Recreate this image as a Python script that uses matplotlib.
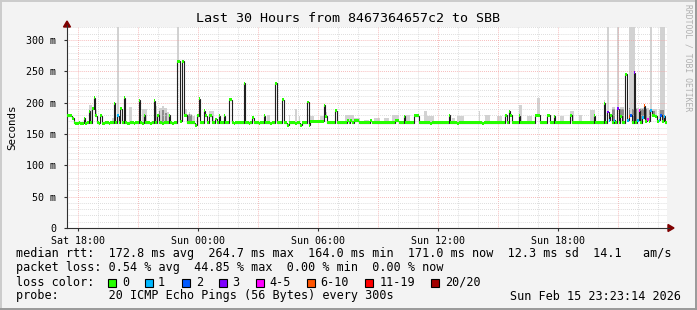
import numpy as np
import matplotlib
matplotlib.use('Agg')
import matplotlib.pyplot as plt
from matplotlib.patches import Polygon, Rectangle
from matplotlib.lines import Line2D

plt.rcParams['font.family'] = ['DejaVu Sans Mono']

# median rtt in ms, one value per 5 min step, 30 hours (24 values = 2 hours per row)
median_ms = [
    179, 179, 179, 175, 168, 167, 167, 168, 167, 167, 175, 167, 168, 186, 168, 190, 208, 179, 168, 167, 179, 167, 167, 168,
    168, 167, 168, 168, 199, 168, 179, 168, 190, 168, 208, 168, 167, 167, 168, 168, 167, 168, 168, 204, 168, 167, 180, 168,
    168, 168, 167, 168, 203, 168, 180, 168, 168, 167, 168, 168, 168, 180, 168, 167, 168, 168, 266, 266, 170, 266, 180, 180,
    168, 168, 168, 168, 168, 164, 179, 206, 168, 168, 187, 179, 168, 179, 179, 168, 168, 174, 168, 179, 168, 168, 179, 168,
    168, 205, 205, 168, 167, 168, 168, 168, 168, 168, 231, 168, 168, 167, 168, 176, 168, 168, 168, 167, 168, 168, 179, 168,
    168, 168, 167, 168, 168, 231, 168, 168, 168, 205, 168, 168, 164, 168, 168, 168, 168, 167, 168, 168, 164, 168, 168, 168,
    201, 164, 170, 170, 170, 170, 170, 170, 170, 170, 196, 178, 168, 168, 168, 168, 168, 187, 168, 168, 168, 168, 168, 168,
    171, 168, 171, 168, 171, 171, 171, 168, 168, 168, 168, 168, 168, 168, 171, 168, 168, 168, 168, 168, 168, 168, 168, 168,
    168, 168, 168, 168, 168, 171, 171, 168, 168, 168, 178, 168, 168, 168, 168, 168, 179, 179, 179, 168, 168, 168, 168, 168,
    168, 168, 167, 168, 168, 168, 168, 168, 168, 168, 168, 168, 168, 180, 168, 168, 168, 168, 167, 168, 168, 168, 168, 168,
    168, 168, 168, 168, 168, 168, 168, 168, 168, 167, 168, 168, 168, 168, 168, 168, 168, 168, 168, 168, 168, 168, 168, 180,
    168, 186, 180, 168, 168, 168, 168, 179, 168, 168, 168, 168, 168, 168, 168, 168, 168, 180, 180, 180, 168, 168, 168, 168,
    180, 180, 168, 168, 178, 168, 168, 168, 168, 168, 168, 168, 168, 168, 180, 168, 168, 168, 168, 168, 168, 168, 168, 168,
    168, 168, 168, 168, 179, 168, 168, 168, 168, 168, 199, 168, 185, 172, 180, 168, 172, 168, 190, 168, 178, 168, 168, 245,
    172, 178, 180, 168, 248, 168, 172, 187, 168, 176, 195, 170, 173, 170, 187, 180, 180, 178, 170, 172, 180, 170, 178, 168,
]

# samples with lost pings (all others 0/20)
loss_idx = [30, 324, 325, 328, 330, 336, 337, 338, 340, 342, 343, 345, 346, 348, 350, 355, 356, 358]
loss_cnt = [1, 3, 1, 1, 3, 1, 7, 2, 3, 1, 4, 1, 7, 4, 1, 1, 2, 1]

# smoke (spread of the 20 pings): light outer part and darker core
smoke_idx = [13, 14, 16, 17, 27, 30, 34, 37, 38, 45, 46, 47, 52, 53, 55, 56, 57, 58, 59, 60, 66, 70, 71,
             72, 73, 74, 75, 76, 85, 86, 87, 120, 121, 133, 137, 139,
             146, 147, 152, 153, 155, 167, 168, 169, 170, 171, 172, 173, 174, 175, 178, 179, 180,
             184, 185, 186, 187, 190, 191, 192, 195, 196, 197, 198, 203, 204, 205, 214, 215,
             216, 217, 218, 219, 231, 232, 234, 235, 236, 237, 247, 251, 252, 253, 258, 259, 260,
             271, 272, 276, 277, 278, 282, 283,
             296, 297, 302, 303, 307, 308, 314, 315, 316, 322, 324, 327, 328, 330, 332, 333,
             337, 338, 339, 340, 341, 342, 344, 345, 346, 347, 348, 350, 351, 352, 353, 355, 356, 357, 358]
smoke_top = [196, 196, 188, 188, 175, 330, 207, 193, 193, 190, 190, 190, 191, 195, 191, 191, 195, 191, 191, 185, 330, 190, 190,
             182, 185, 182, 178, 178, 186, 186, 186, 180, 180, 180, 190, 178,
             178, 178, 178, 178, 185, 180, 180, 180, 180, 180, 176, 176, 176, 176, 173, 173, 173,
             176, 176, 176, 176, 176, 176, 176, 180, 180, 180, 180, 180, 180, 180, 186, 186,
             178, 178, 178, 178, 176, 176, 178, 178, 178, 178, 186, 180, 180, 180, 178, 178, 178,
             196, 196, 178, 178, 178, 208, 208,
             178, 178, 187, 187, 180, 180, 188, 188, 188, 205, 330, 193, 193, 330, 193, 193,
             330, 330, 330, 330, 192, 192, 192, 192, 192, 192, 192, 330, 190, 190, 190, 190, 330, 330, 330]
dark_idx = [55, 57, 59, 72, 73, 74, 327, 328, 332, 333, 337, 339, 341, 344, 345, 346, 347, 349, 351, 352, 356, 357]
dark_top = [186, 188, 184, 180, 182, 180, 190, 190, 190, 190, 192, 190, 190, 190, 190, 188, 190, 188, 186, 186, 188, 188]

loss_colors = {0: '#26ff00', 1: '#00b8ff', 2: '#0059ff', 3: '#7e00ff',
               4: '#ff00ff', 6: '#ff5500', 11: '#ff0000', 20: '#a10000'}
legend_names = ['0', '1', '2', '3', '4-5', '6-10', '11-19', '20/20']
legend_keys = [0, 1, 2, 3, 4, 6, 11, 20]

title = 'Last 30 Hours from 8467364657c2 to SBB'
xtick_pos = [0.55, 6.55, 12.55, 18.55, 24.55]
xtick_lab = ['Sat 18:00', 'Sun 00:00', 'Sun 06:00', 'Sun 12:00', 'Sun 18:00']


def loss_color(n):
    key = 0
    for k in legend_keys:
        if n >= k:
            key = k
    return loss_colors[key]


W, H = 697, 310
fig = plt.figure(figsize=(W / 100, H / 100), dpi=100, facecolor='#f3f3f3')
ax = fig.add_axes([67 / W, 82 / H, 600 / W, 201 / H], facecolor='white')

step = 1 / 12.0
med = np.array(median_ms, dtype=float)
t = np.arange(len(med)) * step

# smoke
s_idx = np.array(smoke_idx)
ax.bar(t[s_idx], np.array(smoke_top) - med[s_idx], bottom=med[s_idx], width=step,
       align='edge', color='#d2d2d2', linewidth=0, zorder=1)
d_idx = np.array(dark_idx)
ax.bar(t[d_idx], np.array(dark_top) - med[d_idx], bottom=med[d_idx], width=step,
       align='edge', color='#8c8c8c', linewidth=0, zorder=1.1)

# grid (rrdtool draws it over the smoke)
dots = (0, (0.7, 1.4))
for h in np.arange(0.55, 30, 1.0):
    major = abs((h - 0.55) % 3) < 1e-6
    ax.axvline(h, color='#f4a0a0' if major else '#d0d0d0', lw=0.7, ls=dots, zorder=2)
for v in range(10, 321, 10):
    ax.axhline(v, color='#f4a0a0' if v % 50 == 0 else '#d0d0d0', lw=0.7, ls=dots, zorder=2)

# median line and loss boxes
edges = np.arange(len(med) + 1) * step
ax.stairs(med, edges, baseline=None, color='#202020', lw=0.8, zorder=3)
loss = np.zeros(len(med), dtype=int)
loss[loss_idx] = loss_cnt
ax.bar(t, 4.6, bottom=med - 2.3, width=step, align='edge',
       color=[loss_color(n) for n in loss], linewidth=0, zorder=4)

ax.set_xlim(0, 30)
ax.set_ylim(0, 320.7)
ax.set_xticks(xtick_pos)
ax.set_xticklabels(xtick_lab)
ax.set_yticks(range(0, 301, 50))
ax.set_yticklabels(['0'] + ['%d m' % v for v in range(50, 301, 50)])
ax.tick_params(labelsize=7.2, length=2, width=0.8, color='#303030', pad=4)
ax.tick_params(axis='y', pad=6)
for s in ['top', 'right']:
    ax.spines[s].set_visible(False)
for s in ['left', 'bottom']:
    ax.spines[s].set_color('#303030')
    ax.spines[s].set_linewidth(0.8)
ax.set_ylabel('Seconds', fontsize=7.8, labelpad=6)


def fx(x):
    return x / W


def fy(y):
    return 1 - y / H


# axis arrows
fig.add_artist(Line2D([fx(667), fx(669)], [fy(228), fy(228)], color='#303030', lw=0.8))
fig.add_artist(Line2D([fx(67), fx(67)], [fy(27), fy(25)], color='#303030', lw=0.8))
fig.add_artist(Polygon([(fx(668), fy(224.5)), (fx(668), fy(231.5)), (fx(674), fy(228))],
                       closed=True, color='#7f0000', transform=fig.transFigure))
fig.add_artist(Polygon([(fx(63.5), fy(27)), (fx(70.5), fy(27)), (fx(67), fy(21))],
                       closed=True, color='#7f0000', transform=fig.transFigure))

# frame shading
fig.add_artist(Line2D([0, 1], [fy(0.7), fy(0.7)], color='#cbcbcb', lw=1.4))
fig.add_artist(Line2D([fx(0.7), fx(0.7)], [0, 1], color='#cbcbcb', lw=1.4))
fig.add_artist(Line2D([0, 1], [fy(H - 1), fy(H - 1)], color='#999999', lw=1.4))
fig.add_artist(Line2D([fx(W - 1), fx(W - 1)], [0, 1], color='#999999', lw=1.4))

fig.text(0.5, fy(18), title, ha='center', va='center', fontsize=9.6)
fig.text(fx(688), fy(4), 'RRDTOOL / TOBI OETIKER', rotation=270, ha='center', va='top',
         fontsize=5.8, color='#b0b0b0')

fs = 8.5
fig.text(fx(16), fy(254), 'median rtt:  172.8 ms avg  264.7 ms max  164.0 ms min  '
         '171.0 ms now  12.3 ms sd  14.1   am/s', fontsize=fs, va='center')
fig.text(fx(16), fy(268), 'packet loss: 0.54 % avg  44.85 % max  0.00 % min  0.00 % now',
         fontsize=fs, va='center')
fig.text(fx(16), fy(282), 'loss color:', fontsize=fs, va='center')
sq_x = [108.3, 145.3, 182.3, 219, 256, 306.7, 365, 430.7]
lab_x = [122.7, 157.7, 195.7, 232.3, 269.7, 320, 380, 445]
for k, name, sx, lx in zip(legend_keys, legend_names, sq_x, lab_x):
    fig.add_artist(Rectangle((fx(sx), fy(286.5)), 8 / W, 8 / H, facecolor=loss_colors[k],
                             edgecolor='black', lw=0.8, transform=fig.transFigure))
    fig.text(fx(lx), fy(282), name, fontsize=fs, va='center')
fig.text(fx(16), fy(296), 'probe:       20 ICMP Echo Pings (56 Bytes) every 300s',
         fontsize=fs, va='center')
fig.text(fx(681), fy(296), 'Sun Feb 15 23:23:14 2026', fontsize=fs, va='center', ha='right')

fig.savefig('out.png', dpi=100, facecolor=fig.get_facecolor())
